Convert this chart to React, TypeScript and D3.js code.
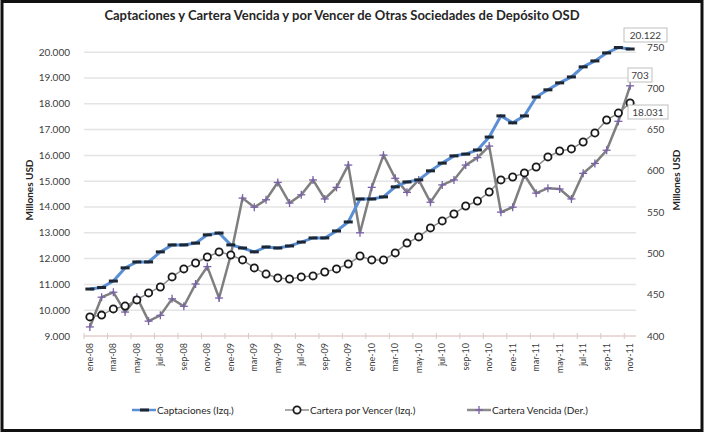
import { useEffect, useRef } from 'react';
import * as d3 from 'd3';

const monthNames = ['ene', 'feb', 'mar', 'abr', 'may', 'jun', 'jul', 'ago', 'sep', 'oct', 'nov', 'dic'];
const years = ['08', '09', '10', '11'];
const categories = years.flatMap(y => monthNames.map(m => `${m}-${y}`)).slice(0, 47);

const captaciones = [
	10820, 10880, 11130, 11640, 11870, 11870, 12260, 12530, 12530, 12600,
	12920, 12990, 12530, 12410, 12260, 12450, 12410, 12490, 12640, 12800,
	12800, 13070, 13420, 14310, 14310, 14390, 14780, 14970, 15050, 15400,
	15700, 15980, 16050, 16210, 16710, 17530, 17260, 17530, 18260, 18540,
	18810, 19040, 19430, 19660, 19970, 20180, 20122,
];
const carteraPorVencer = [
	9740, 9810, 10050, 10160, 10400, 10670, 10900, 11290, 11600, 11830,
	12060, 12260, 12140, 11950, 11640, 11400, 11250, 11210, 11290, 11330,
	11480, 11600, 11790, 12100, 11950, 11950, 12220, 12600, 12840, 13190,
	13460, 13730, 14040, 14230, 14580, 15050, 15160, 15320, 15550, 15940,
	16170, 16250, 16520, 16870, 17370, 17640, 18031,
];
const carteraVencida = [
	411, 447, 453, 429, 447, 418, 425, 445, 436, 463,
	484, 446, 498, 567, 556, 565, 586, 561, 571, 589,
	566, 580, 607, 525, 580, 619, 591, 574, 589, 562,
	583, 589, 607, 616, 630, 550, 556, 595, 573, 579,
	578, 566, 597, 609, 625, 660, 703,
];
const leftTicks = [9000, 10000, 11000, 12000, 13000, 14000, 15000, 16000, 17000, 18000, 19000, 20000];
const rightTicks = [400, 450, 500, 550, 600, 650, 700, 750];
const seriesNames = ['Captaciones (Izq.)', 'Cartera por Vencer (Izq.)', 'Cartera Vencida (Der.)'];

const fmt = (v: number) => d3.format(',')(v).replace(/,/g, '.');

export default function App() {
	const ref = useRef<SVGSVGElement | null>(null);

	useEffect(() => {
		if (!ref.current) return;
		const svg = d3.select(ref.current);
		svg.selectAll('*').remove();

		const W = 704;
		const H = 432;
		const font = 'Lato, "Open Sans", sans-serif';
		const left = 84;
		const right = 636;
		const top = 47;
		const bottom = 336;

		svg.append('rect').attr('width', W).attr('height', H).attr('fill', '#fff');

		const x = d3.scalePoint<string>().domain(categories).range([left, right]).padding(0.5);
		const step = x.step();
		const yL = d3.scaleLinear().domain([9000, 20200]).range([bottom, top]);
		const yR = d3.scaleLinear().domain([400, 750]).range([bottom, top]);

		// title
		svg
			.append('text')
			.attr('x', 342)
			.attr('y', 20)
			.attr('text-anchor', 'middle')
			.style('font-family', font)
			.style('font-weight', 'bold')
			.style('font-size', '13px')
			.style('fill', '#262626')
			.text('Captaciones y Cartera Vencida y por Vencer de Otras Sociedades de Depósito OSD');

		// grid
		svg
			.append('g')
			.selectAll('line')
			.data(leftTicks.slice(1))
			.join('line')
			.attr('x1', left)
			.attr('x2', right)
			.attr('y1', d => yL(d))
			.attr('y2', d => yL(d))
			.attr('stroke', '#e4e4e4')
			.attr('stroke-width', 1.5);

		// left axis labels
		svg
			.append('g')
			.selectAll('text')
			.data(leftTicks)
			.join('text')
			.attr('x', 70)
			.attr('y', d => yL(d))
			.attr('dy', '0.35em')
			.attr('text-anchor', 'end')
			.style('font-family', font)
			.style('font-size', '10px')
			.style('fill', '#404040')
			.text(d => fmt(d));

		// right axis labels
		svg
			.append('g')
			.selectAll('text')
			.data(rightTicks)
			.join('text')
			.attr('x', 647)
			.attr('y', d => yR(d))
			.attr('dy', '0.35em')
			.style('font-family', font)
			.style('font-size', '10px')
			.style('fill', '#404040')
			.text(d => d);

		// axis titles
		svg
			.append('text')
			.attr('transform', `translate(33, 190) rotate(-90)`)
			.attr('text-anchor', 'middle')
			.style('font-family', font)
			.style('font-weight', 'bold')
			.style('font-size', '10px')
			.style('fill', '#262626')
			.text('Millones USD');
		svg
			.append('text')
			.attr('transform', `translate(680, 180) rotate(-90)`)
			.attr('text-anchor', 'middle')
			.style('font-family', font)
			.style('font-weight', 'bold')
			.style('font-size', '10px')
			.style('fill', '#262626')
			.text('Millones USD');

		// x axis
		svg
			.append('line')
			.attr('x1', left)
			.attr('x2', right)
			.attr('y1', bottom)
			.attr('y2', bottom)
			.attr('stroke', '#d8b4b4')
			.attr('stroke-width', 1);
		svg
			.append('g')
			.selectAll('line')
			.data(categories.filter((_, i) => i % 2 === 0))
			.join('line')
			.attr('x1', d => (x(d) as number) - step / 2)
			.attr('x2', d => (x(d) as number) - step / 2)
			.attr('y1', bottom - 3)
			.attr('y2', bottom + 3)
			.attr('stroke', '#d8c8c8');
		svg
			.append('g')
			.selectAll('text')
			.data(categories.filter((_, i) => i % 2 === 0))
			.join('text')
			.attr('transform', d => `translate(${(x(d) as number) + 3}, ${bottom + 7}) rotate(-90)`)
			.attr('text-anchor', 'end')
			.style('font-family', font)
			.style('font-size', '9px')
			.style('fill', '#404040')
			.text(d => d);

		// Cartera Vencida (right)
		const lineR = d3
			.line<number>()
			.x((_, i) => x(categories[i]) as number)
			.y(d => yR(d));
		const lineL = d3
			.line<number>()
			.x((_, i) => x(categories[i]) as number)
			.y(d => yL(d));

		svg
			.append('path')
			.datum(carteraVencida)
			.attr('fill', 'none')
			.attr('stroke', '#7f7f7f')
			.attr('stroke-width', 2.5)
			.attr('d', lineR);
		const plus = (g: d3.Selection<SVGGElement, unknown, null, undefined>, cx: number, cy: number) => {
			g.append('line').attr('x1', cx - 4).attr('x2', cx + 4).attr('y1', cy).attr('y2', cy);
			g.append('line').attr('x1', cx).attr('x2', cx).attr('y1', cy - 4).attr('y2', cy + 4);
		};
		const gPlus = svg.append('g').attr('stroke', '#7a62a8').attr('stroke-width', 1.3);
		carteraVencida.forEach((d, i) => plus(gPlus, x(categories[i]) as number, yR(d)));

		// Cartera por Vencer (left)
		svg
			.append('path')
			.datum(carteraPorVencer)
			.attr('fill', 'none')
			.attr('stroke', '#8c8c8c')
			.attr('stroke-width', 1.5)
			.attr('d', lineL);
		svg
			.append('g')
			.selectAll('circle')
			.data(carteraPorVencer)
			.join('circle')
			.attr('cx', (_, i) => x(categories[i]) as number)
			.attr('cy', d => yL(d))
			.attr('r', 3.6)
			.attr('fill', '#fff')
			.attr('stroke', '#1a1a1a')
			.attr('stroke-width', 1.8);

		// Captaciones (left)
		svg
			.append('path')
			.datum(captaciones)
			.attr('fill', 'none')
			.attr('stroke', '#5a8fd6')
			.attr('stroke-width', 3)
			.attr('d', lineL);
		svg
			.append('g')
			.selectAll('rect')
			.data(captaciones)
			.join('rect')
			.attr('x', (_, i) => (x(categories[i]) as number) - 4.5)
			.attr('y', d => yL(d) - 1.5)
			.attr('width', 9)
			.attr('height', 3)
			.attr('fill', '#1c2733');

		// data labels
		const labels = [
			{ text: fmt(captaciones[46]), x: 624, y: 28, w: 43 },
			{ text: String(carteraVencida[46]), x: 628, y: 68, w: 24 },
			{ text: fmt(carteraPorVencer[46]), x: 628, y: 105, w: 40 },
		];
		const gl = svg.append('g');
		labels.forEach(l => {
			gl.append('rect')
				.attr('x', l.x)
				.attr('y', l.y)
				.attr('width', l.w)
				.attr('height', 14)
				.attr('fill', '#fff')
				.attr('stroke', '#bfbfbf');
			gl.append('text')
				.attr('x', l.x + l.w / 2)
				.attr('y', l.y + 7)
				.attr('dy', '0.35em')
				.attr('text-anchor', 'middle')
				.style('font-family', font)
				.style('font-size', '10px')
				.style('fill', '#404040')
				.text(l.text);
		});

		// legend
		const legendX = [132, 285, 467];
		const ly = 410;
		const lg = svg.append('g');
		seriesNames.forEach((name, i) => {
			const lx = legendX[i];
			const color = i === 0 ? '#5a8fd6' : '#8c8c8c';
			lg.append('line')
				.attr('x1', lx)
				.attr('x2', lx + 24)
				.attr('y1', ly)
				.attr('y2', ly)
				.attr('stroke', color)
				.attr('stroke-width', i === 1 ? 1.5 : 2.5);
			if (i === 0) {
				lg.append('rect').attr('x', lx + 8).attr('y', ly - 1.5).attr('width', 9).attr('height', 3).attr('fill', '#1c2733');
			} else if (i === 1) {
				lg.append('circle').attr('cx', lx + 12).attr('cy', ly).attr('r', 3.6).attr('fill', '#fff').attr('stroke', '#1a1a1a').attr('stroke-width', 1.8);
			} else {
				const gp = lg.append('g').attr('stroke', '#7a62a8').attr('stroke-width', 1.3);
				plus(gp, lx + 12, ly);
			}
			lg.append('text')
				.attr('x', lx + 25)
				.attr('y', ly)
				.attr('dy', '0.35em')
				.style('font-family', font)
				.style('font-size', '10px')
				.style('fill', '#262626')
				.text(name);
		});

		// frame
		svg
			.append('rect')
			.attr('x', 2)
			.attr('y', 1.5)
			.attr('width', W - 4)
			.attr('height', H - 3)
			.attr('fill', 'none')
			.attr('stroke', '#111')
			.attr('stroke-width', 3);
	}, []);

	return <svg ref={ref} width={704} height={432} style={{ position: 'absolute', left: 0, top: 0 }} />;
}
